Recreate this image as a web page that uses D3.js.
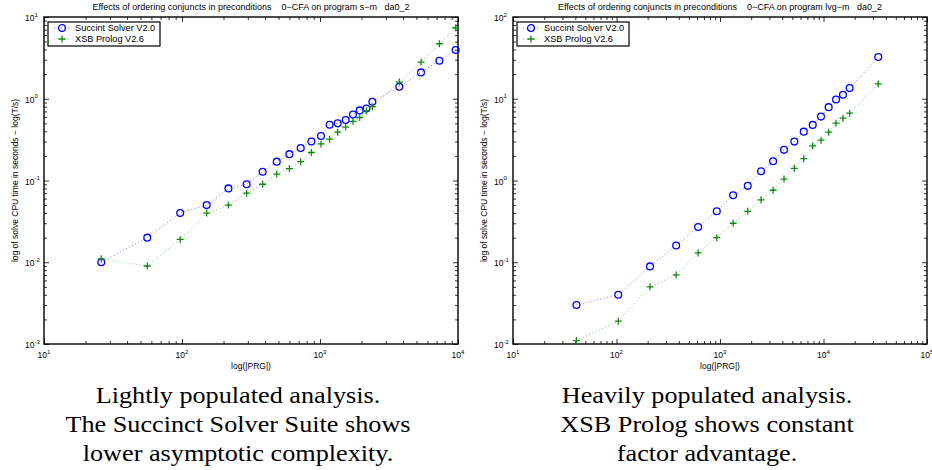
<!DOCTYPE html>
<html>
<head>
<meta charset="utf-8">
<script src="https://cdn.jsdelivr.net/npm/d3@7"></script>
<style>
  body { margin: 0; background: #fff; }
  svg { display: block; }
</style>
</head>
<body>
<svg id="chart" width="932" height="470"></svg>
<script>
// left panel: program s-m (lightly populated)
const leftSize = [26, 56, 97, 151, 217, 294, 384, 486, 600, 725, 866, 1017, 1175, 1343, 1535, 1734, 1940, 2169, 2397, 3760, 5395, 7330, 9620];
const leftSuccinct = [0.010, 0.020, 0.040, 0.050, 0.080, 0.090, 0.128, 0.17, 0.21, 0.25, 0.30, 0.35, 0.48, 0.50, 0.55, 0.64, 0.72, 0.76, 0.92, 1.40, 2.10, 2.92, 3.94];
const leftXsb = [0.011, 0.009, 0.019, 0.040, 0.050, 0.070, 0.090, 0.12, 0.14, 0.17, 0.22, 0.28, 0.32, 0.39, 0.45, 0.53, 0.59, 0.71, 0.80, 1.60, 2.81, 4.71, 7.39];

// right panel: program lvg-m (heavily populated)
const rightSize = [41, 104, 211, 377, 615, 931, 1340, 1853, 2494, 3259, 4156, 5226, 6447, 7870, 9460, 11220, 13210, 15420, 17900, 33800];
const rightSuccinct = [0.030, 0.040, 0.089, 0.16, 0.27, 0.42, 0.66, 0.86, 1.30, 1.72, 2.37, 2.99, 3.96, 4.79, 6.05, 7.89, 9.78, 11.2, 13.5, 32.4];
const rightXsb = [0.011, 0.019, 0.050, 0.070, 0.13, 0.20, 0.30, 0.42, 0.58, 0.76, 1.04, 1.41, 1.85, 2.65, 3.11, 3.90, 5.02, 5.78, 6.67, 15.2];

const seriesNames = ["Succint Solver V2.0", "XSB Prolog V2.6"];
const leftTitle = "Effects of ordering conjuncts in preconditions    0\u2212CFA on program s\u2212m   da0_2";
const rightTitle = "Effects of ordering conjuncts in preconditions    0\u2212CFA on program lvg\u2212m   da0_2";
const xLabel = "log(|PRG|)";
const yLabel = "log of solve CPU time in seconds \u2212 log(T/s)";
const leftCaption = ["Lightly populated analysis.", "The Succinct Solver Suite shows", "lower asymptotic complexity."];
const rightCaption = ["Heavily populated analysis.", "XSB Prolog shows constant", "factor advantage."];

const blue = "#0000ff";
const green = "#138a13";
const sans = "'Liberation Sans', Arial, sans-serif";
const serif = "'Liberation Serif', 'Times New Roman', serif";

const svg = d3.select("#chart");

function decadeTicks(lo, hi) {
  const major = [], minor = [];
  for (let e = Math.log10(lo); e <= Math.log10(hi); e++) {
    major.push(Math.pow(10, e));
    if (e < Math.log10(hi)) for (let k = 2; k <= 9; k++) minor.push(k * Math.pow(10, e));
  }
  return { major, minor };
}

// "10" with a raised exponent
function powerLabel(sel, v) {
  sel.text("10");
  sel.append("tspan")
    .attr("dy", -4.5)
    .attr("font-size", 6)
    .text(Math.round(Math.log10(v)));
}

function panel(o) {
  const x = d3.scaleLog().domain(o.xDomain).range([o.left, o.right]);
  const y = d3.scaleLog().domain(o.yDomain).range([o.bottom, o.top]);
  const g = svg.append("g");

  const xt = decadeTicks(o.xDomain[0], o.xDomain[1]);
  const yt = decadeTicks(o.yDomain[0], o.yDomain[1]);

  // inward ticks on all four sides
  const axes = [
    [d3.axisBottom(x), `translate(0,${o.bottom})`, xt],
    [d3.axisTop(x), `translate(0,${o.top})`, xt],
    [d3.axisLeft(y), `translate(${o.left},0)`, yt],
    [d3.axisRight(y), `translate(${o.right},0)`, yt]
  ];
  axes.forEach(([ax, tr, t]) => {
    [[t.major, -5], [t.minor, -3]].forEach(([vals, len]) => {
      const a = g.append("g").attr("transform", tr)
        .call(ax.tickValues(vals).tickSize(len).tickFormat(""));
      a.select(".domain").remove();
      a.selectAll("line").attr("stroke", "#000").attr("stroke-width", 0.8);
    });
  });

  g.append("rect")
    .attr("x", o.left).attr("y", o.top)
    .attr("width", o.right - o.left).attr("height", o.bottom - o.top)
    .attr("fill", "none").attr("stroke", "#000").attr("stroke-width", 1.4);

  // tick labels
  g.selectAll(".xl").data(xt.major).join("text")
    .attr("x", d => x(d)).attr("y", o.bottom + 14)
    .attr("text-anchor", "middle")
    .attr("font-family", sans).attr("font-size", 8.5)
    .each(function (d) { powerLabel(d3.select(this), d); });
  g.selectAll(".yl").data(yt.major).join("text")
    .attr("x", o.left - 19).attr("y", d => y(d) + 4)
    .attr("font-family", sans).attr("font-size", 8.5)
    .each(function (d) { powerLabel(d3.select(this), d); });

  // axis titles
  g.append("text")
    .attr("x", (o.left + o.right) / 2).attr("y", o.bottom + 25)
    .attr("text-anchor", "middle")
    .attr("font-family", sans).attr("font-size", 8.5)
    .text(xLabel);
  g.append("text")
    .attr("transform", `translate(${o.left - 26},${(o.top + o.bottom) / 2}) rotate(-90)`)
    .attr("text-anchor", "middle")
    .attr("font-family", sans).attr("font-size", 8.5)
    .text(yLabel);
  g.append("text")
    .attr("x", (o.left + o.right) / 2).attr("y", o.top - 7)
    .attr("text-anchor", "middle")
    .attr("font-family", sans).attr("font-size", 9)
    .style("white-space", "pre")
    .text(o.title);

  // series
  const series = [
    { vals: o.s1, color: blue, mark: "circle" },
    { vals: o.s2, color: green, mark: "plus" }
  ];
  const line = d3.line().x(d => x(d[0])).y(d => y(d[1]));
  series.forEach(s => {
    const pts = o.size.map((v, i) => [v, s.vals[i]]);
    g.append("path").datum(pts)
      .attr("d", line)
      .attr("fill", "none").attr("stroke", s.color)
      .attr("stroke-opacity", 0.55)
      .attr("stroke-width", 1)
      .attr("stroke-dasharray", "1,2.5");
    drawMarks(g, pts.map(p => [x(p[0]), y(p[1])]), s);
  });

  // legend
  const lg = g.append("g").attr("transform", `translate(${o.left + 4},${o.top + 5})`);
  lg.append("rect").attr("width", 112).attr("height", 24)
    .attr("fill", "#fff").attr("stroke", "#000").attr("stroke-width", 1.2);
  series.forEach((s, i) => {
    const cy = 6 + i * 11;
    lg.append("line").attr("x1", 6).attr("x2", 22).attr("y1", cy).attr("y2", cy)
      .attr("stroke", s.color).attr("stroke-opacity", 0.55)
      .attr("stroke-dasharray", "1,2.5");
    drawMarks(lg, [[14, cy]], s);
    lg.append("text").attr("x", 27).attr("y", cy + 3.2)
      .attr("font-family", sans).attr("font-size", 9.2)
      .text(seriesNames[i]);
  });

  // caption (widened a little to resemble Computer Modern)
  const cx = (o.left + o.right) / 2 - 13;
  o.caption.forEach((t, i) => {
    svg.append("text")
      .attr("transform", `translate(${cx},${403 + i * 29}) scale(1.14,1)`)
      .attr("text-anchor", "middle")
      .attr("font-family", serif).attr("font-size", 23)
      .text(t);
  });
}

function drawMarks(g, pts, s) {
  if (s.mark === "circle") {
    g.selectAll(null).data(pts).join("circle")
      .attr("cx", d => d[0]).attr("cy", d => d[1]).attr("r", 3.4)
      .attr("fill", "none").attr("stroke", s.color).attr("stroke-width", 1.3);
  } else {
    g.selectAll(null).data(pts).join("path")
      .attr("d", d => `M${d[0] - 3.5},${d[1]}H${d[0] + 3.5}M${d[0]},${d[1] - 3.5}V${d[1] + 3.5}`)
      .attr("stroke", s.color).attr("stroke-width", 1.3);
  }
}

panel({
  left: 44, right: 458, top: 17, bottom: 344,
  xDomain: [1e1, 1e4], yDomain: [1e-3, 1e1],
  size: leftSize, s1: leftSuccinct, s2: leftXsb,
  title: leftTitle, caption: leftCaption
});
panel({
  left: 513, right: 927, top: 17, bottom: 344,
  xDomain: [1e1, 1e5], yDomain: [1e-2, 1e2],
  size: rightSize, s1: rightSuccinct, s2: rightXsb,
  title: rightTitle, caption: rightCaption
});
</script>
</body>
</html>
